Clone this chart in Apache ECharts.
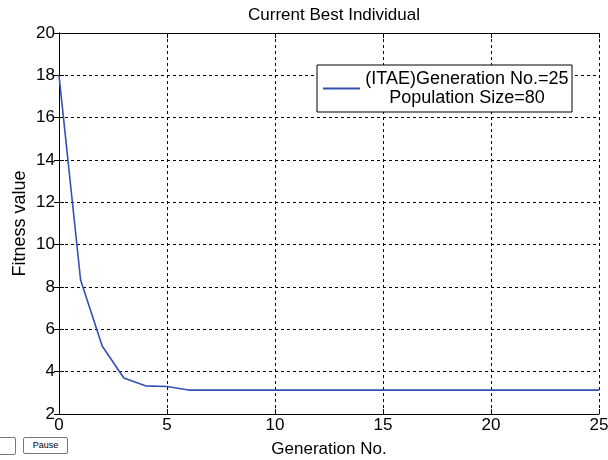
<!DOCTYPE html>
<html>
<head>
<meta charset="utf-8">
<script src="https://cdn.jsdelivr.net/npm/echarts@6/dist/echarts.min.js"></script>
<style>
  html, body { margin: 0; padding: 0; background: #fff; }
  #chart { width: 608px; height: 460px; position: absolute; left: 0; top: 0; }
  .ctl { position: absolute; font-family: "Liberation Sans", Arial, sans-serif; font-size: 9px;
         border: 1px solid #777; border-radius: 2px; background: #fff; box-sizing: border-box; }
  #boxLeft { left: -6px; top: 437px; width: 22px; height: 18px; }
  #pause { left: 23px; top: 437px; width: 45px; height: 17px; line-height: 15px; text-align: center; color: #000; }
</style>
</head>
<body>
<div id="chart"></div>
<div class="ctl" id="boxLeft"></div>
<div class="ctl" id="pause">Pause</div>
<script>
// Best fitness of the population at each generation (ITAE criterion)
const generations = [0, 1, 2, 3, 4, 5, 6, 7, 8, 9, 10, 11, 12, 13, 14, 15, 16, 17, 18, 19, 20, 21, 22, 23, 24, 25];
const fitness = [18.0, 8.33, 5.21, 3.70, 3.33, 3.30, 3.13, 3.13, 3.13, 3.13, 3.13, 3.13, 3.13, 3.13, 3.13, 3.13, 3.13, 3.13, 3.13, 3.13, 3.13, 3.13, 3.13, 3.13, 3.13, 3.13];
const legendLines = ['(ITAE)Generation No.=25', 'Population Size=80'];
const seriesName = legendLines.join(' ');

const font = '"Liberation Sans", Arial, sans-serif';
const lineColor = '#3451b2';
const chart = echarts.init(document.getElementById('chart'));

const gridLine = { show: true, lineStyle: { color: '#000', type: [3, 3], width: 1 } };
const axisLine = { show: true, lineStyle: { color: '#000', width: 1 } };
const tick = { show: true, inside: true, length: 5, lineStyle: { color: '#000' } };

chart.setOption({
  animation: false,
  backgroundColor: '#fff',
  title: {
    text: 'Current Best Individual',
    left: 329, top: 2, textAlign: 'center',
    textStyle: { fontFamily: font, fontSize: 17, fontWeight: 'normal', color: '#000' }
  },
  grid: { left: 59, right: 9, top: 33, bottom: 46, outerBoundsMode: 'none', containLabel: false },
  legend: {
    left: 317, top: 65,
    orient: 'vertical',
    backgroundColor: '#fff',
    borderColor: '#000', borderWidth: 1, borderRadius: 0,
    padding: [5, 3, 5, 6],
    itemWidth: 37, itemHeight: 2, itemGap: 0,
    data: [{ name: seriesName, icon: 'rect' }],
    itemStyle: { color: lineColor },
    formatter: () => '{a|' + legendLines[0] + '}\n{a|' + legendLines[1] + '}',
    textStyle: {
      fontFamily: font, fontSize: 18, color: '#000',
      rich: { a: { fontFamily: font, fontSize: 18, color: '#000', width: 204, align: 'center', lineHeight: 19 } }
    }
  },
  xAxis: [{
    type: 'value', min: 0, max: 25, interval: 5,
    name: 'Generation No.', nameLocation: 'middle', nameGap: 27, nameMoveOverlap: false,
    nameTextStyle: { fontFamily: font, fontSize: 17, color: '#000' },
    axisLine: axisLine, axisTick: tick,
    axisLabel: { fontFamily: font, fontSize: 17, color: '#000', margin: 3 },
    splitLine: gridLine
  }, {
    type: 'value', min: 0, max: 25, interval: 5, position: 'top',
    axisLine: axisLine, axisTick: tick,
    axisLabel: { show: false }, splitLine: { show: false }
  }],
  yAxis: [{
    type: 'value', min: 2, max: 20, interval: 2,
    name: 'Fitness value', nameLocation: 'middle', nameGap: 30, nameMoveOverlap: false,
    nameTextStyle: { fontFamily: font, fontSize: 18, color: '#000' },
    axisLine: axisLine, axisTick: tick,
    axisLabel: { fontFamily: font, fontSize: 17, color: '#000', margin: 4 },
    splitLine: gridLine
  }, {
    type: 'value', min: 2, max: 20, interval: 2, position: 'right',
    axisLine: axisLine, axisTick: tick,
    axisLabel: { show: false }, splitLine: { show: false }
  }],
  series: [{
    name: seriesName,
    type: 'line',
    data: generations.map((g, i) => [g, fitness[i]]),
    showSymbol: false,
    lineStyle: { color: lineColor, width: 1.6 },
    itemStyle: { color: lineColor }
  }]
});
</script>
</body>
</html>
